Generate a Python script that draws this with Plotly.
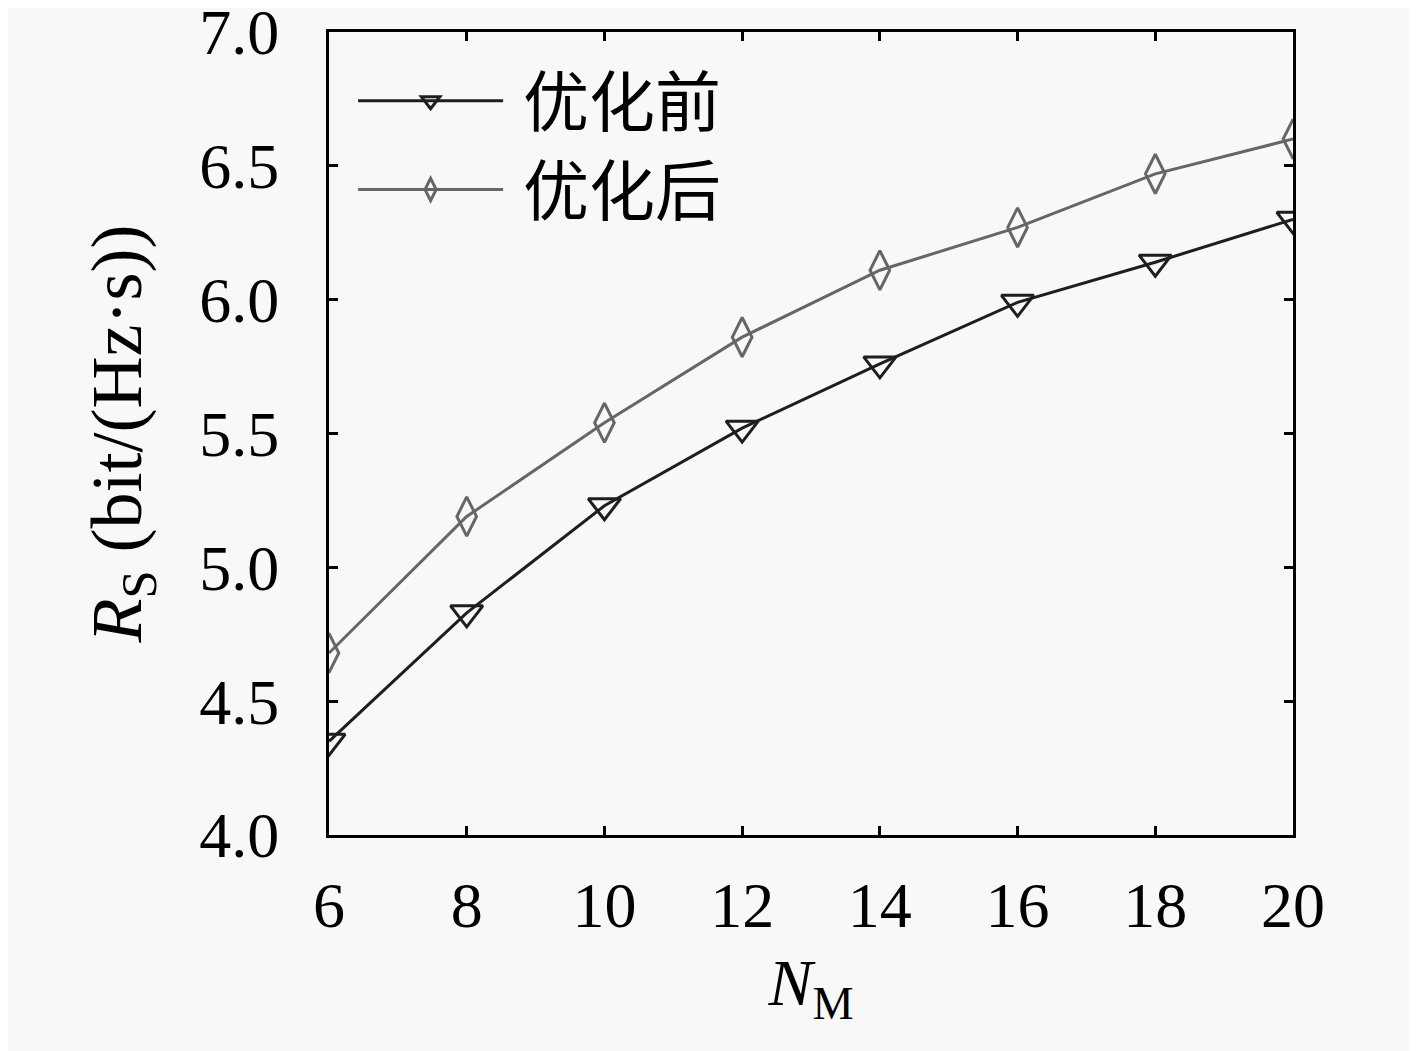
import plotly.graph_objects as go

# N_M values and achievable rate before/after optimisation
n_m = [6, 8, 10, 12, 14, 16, 18, 20]
rate_before = [4.35, 4.83, 5.23, 5.52, 5.76, 5.99, 6.14, 6.30]
rate_after = [4.68, 5.19, 5.54, 5.86, 6.11, 6.27, 6.47, 6.60]

x_ticks = [6, 8, 10, 12, 14, 16, 18, 20]
y_ticks = [4.0, 4.5, 5.0, 5.5, 6.0, 6.5, 7.0]
y_labels = ['%.1f' % v for v in y_ticks]

serif = 'Liberation Serif, Noto Sans CJK SC, serif'
bg = '#f8f8f8'
gap = '\u00a0'  # space between legend line and its label

fig = go.Figure()
fig.add_trace(go.Scatter(
    x=n_m, y=rate_before, name=gap + '优化前', mode='lines+markers',
    line=dict(color='#1e1e1e', width=3),
    marker=dict(symbol='triangle-down-open', size=28,
                line=dict(color='#1e1e1e', width=3)),
))
fig.add_trace(go.Scatter(
    x=n_m, y=rate_after, name=gap + '优化后', mode='lines+markers',
    line=dict(color='#666666', width=3),
    marker=dict(symbol='diamond-tall-open', size=28,
                line=dict(color='#666666', width=3)),
))

axis_common = dict(
    showline=True, linecolor='black', linewidth=3, mirror='ticks',
    ticks='inside', ticklen=9, tickwidth=3, tickcolor='black',
    showgrid=False, zeroline=False, automargin=False,
    ticklabeloverflow='allow',
    tickfont=dict(family=serif, size=64, color='black'),
)

# the page body adds an 8px offset, so the figure is sized to compensate
fig.update_layout(
    width=1409, height=1043,
    margin=dict(l=321, r=124, t=24, b=216),
    paper_bgcolor=bg, plot_bgcolor=bg,
    font=dict(family=serif, color='black'),
    showlegend=True,
    legend=dict(
        x=0.025, y=0.976, xanchor='left', yanchor='top',
        bgcolor='rgba(0,0,0,0)', borderwidth=0,
        font=dict(family='Noto Sans CJK SC', size=66, color='black'),
        itemwidth=145, tracegroupgap=2,
    ),
    xaxis=dict(
        range=[6, 20], tickvals=x_ticks,
        title=dict(text='<i>N</i><sub>M</sub>', font=dict(family=serif, size=66), standoff=20),
        ticklabelstandoff=12,
        **axis_common,
    ),
    yaxis=dict(
        range=[4.0, 7.0], tickvals=y_ticks, ticktext=y_labels,
        title=dict(text='<i>R</i><sub>S</sub> (bit/(Hz·s))', font=dict(family=serif, size=72), standoff=35),
        ticklabelstandoff=34,
        **axis_common,
    ),
)

fig.write_html("out.html")
